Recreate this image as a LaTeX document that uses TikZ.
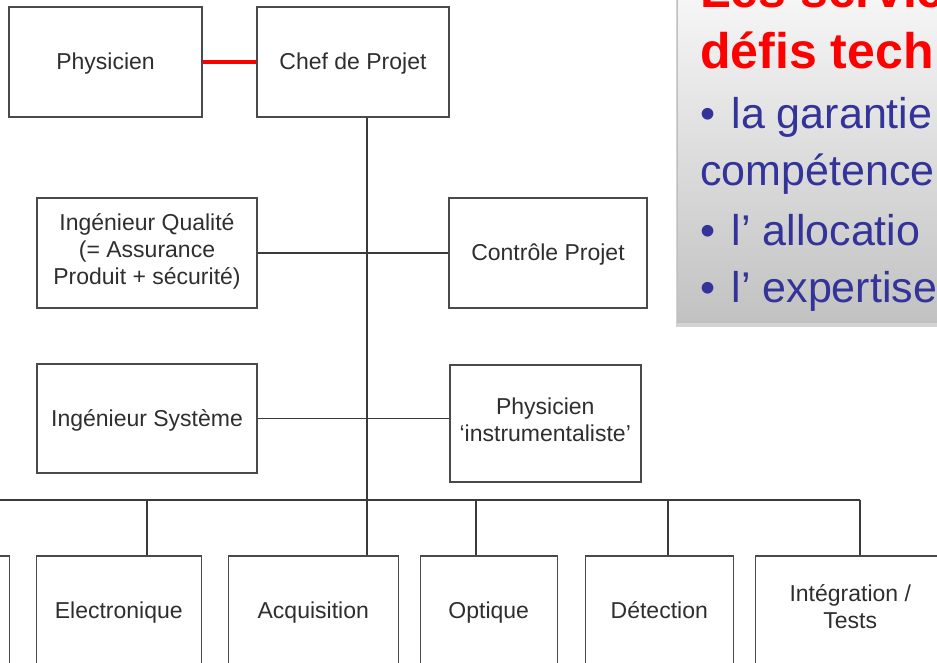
\documentclass[tikz,border=0pt]{standalone}
\usepackage{fontspec}
\setmainfont{Liberation Sans}
\usetikzlibrary{positioning,shadows}

\definecolor{boxgray}{HTML}{4A4A4A}
\definecolor{linegray}{HTML}{3A3A3A}
\definecolor{txtgray}{HTML}{2E2E2E}
\definecolor{bleu}{HTML}{333399}

\begin{document}
\begin{tikzpicture}[
    x=1pt, y=-1pt,
    box/.style={draw=boxgray, line width=1.5pt, align=center, inner sep=0pt, minimum height=110pt, text=txtgray, font=\fontsize{23}{27}\selectfont, execute at begin node=\rule{0pt}{24pt}, execute at end node=\strut},
    link/.style={draw=linegray, line width=1.3pt},
    redlink/.style={draw=red, line width=4pt},
    panel/.style={draw=black!25, line width=0.8pt, top color=white, bottom color=black!24, drop shadow={shadow xshift=-1.5pt, shadow yshift=-5pt, opacity=0.35}},
    title/.style={anchor=base west, inner sep=0pt, text=red, font=\fontsize{50}{60}\selectfont\bfseries},
    point/.style={anchor=base west, inner sep=0pt, text=bleu, font=\fontsize{43}{58}\selectfont}
]
\useasboundingbox (0,0) rectangle (937,662);
\clip (0,0) rectangle (937,662);

% top of the chart
\node[box, minimum width=193pt] (phys) at (105.5,62) {Physicien};
\node[box, minimum width=192pt, right=53.5pt of phys] (chef) {Chef de Projet};
\node[box, minimum width=220pt] (qual) at (147,253) {Ingénieur Qualité\\(= Assurance\\Produit + sécurité)};
\node[box, minimum width=198pt] (ctrl) at (548,253) {Contrôle Projet};
\node[box, minimum width=220pt, minimum height=109pt, below=54.5pt of qual] (sys) {Ingénieur Système};
\node[box, minimum width=191pt, minimum height=117pt, anchor=north west] (instr) at (449,364) {Physicien\\‘instrumentaliste’};

% bottom row
\node[box, minimum width=165pt, anchor=north east] (lft) at (10,555) {};
\node[box, minimum width=165pt, right=25.5pt of lft] (elec) {Electronique};
\node[box, minimum width=170pt, right=25.5pt of elec] (acq) {Acquisition};
\node[box, minimum width=137pt, right=20.5pt of acq] (opt) {Optique};
\node[box, minimum width=148pt, right=26.5pt of opt] (det) {Détection};
\node[box, minimum width=190pt, right=20.5pt of det] (integ) {Intégration /\\Tests};

% connectors
\coordinate (trunk) at (367,500);
\coordinate (bus) at (-60,500);
\coordinate (busend) at (860,500);
\draw[redlink] (phys.east) -- (chef.west);
\draw[link] (trunk |- chef.south) -- (trunk |- acq.north);
\draw[link] (qual.east) -- (ctrl.west);
\draw[link] (sys.east) -- (sys.east -| instr.west);
\draw[link] (bus) -- (busend);
\foreach \n/\x in {lft/-60, elec/147, opt/476, det/668, integ/860}
  \draw[link] (\x,0 |- bus) -- (\x,0 |- \n.north);

% text panel
\node[panel, minimum width=273pt, minimum height=382pt] (panel) at (813.5,131) {};
\node[title] (t1) at (700,7) {Les servic};
\node[title] (t2) at (700,68) {défis tech};
\node[point] (t3) at (700,128) {•\hspace{.38em}la garantie};
\node[point] (t4) at (700,185) {compétence};
\node[point] (t5) at (700,245) {•\hspace{.38em}l’ allocatio};
\node[point] (t6) at (700,302) {•\hspace{.38em}l’ expertise};
\end{tikzpicture}
\end{document}
